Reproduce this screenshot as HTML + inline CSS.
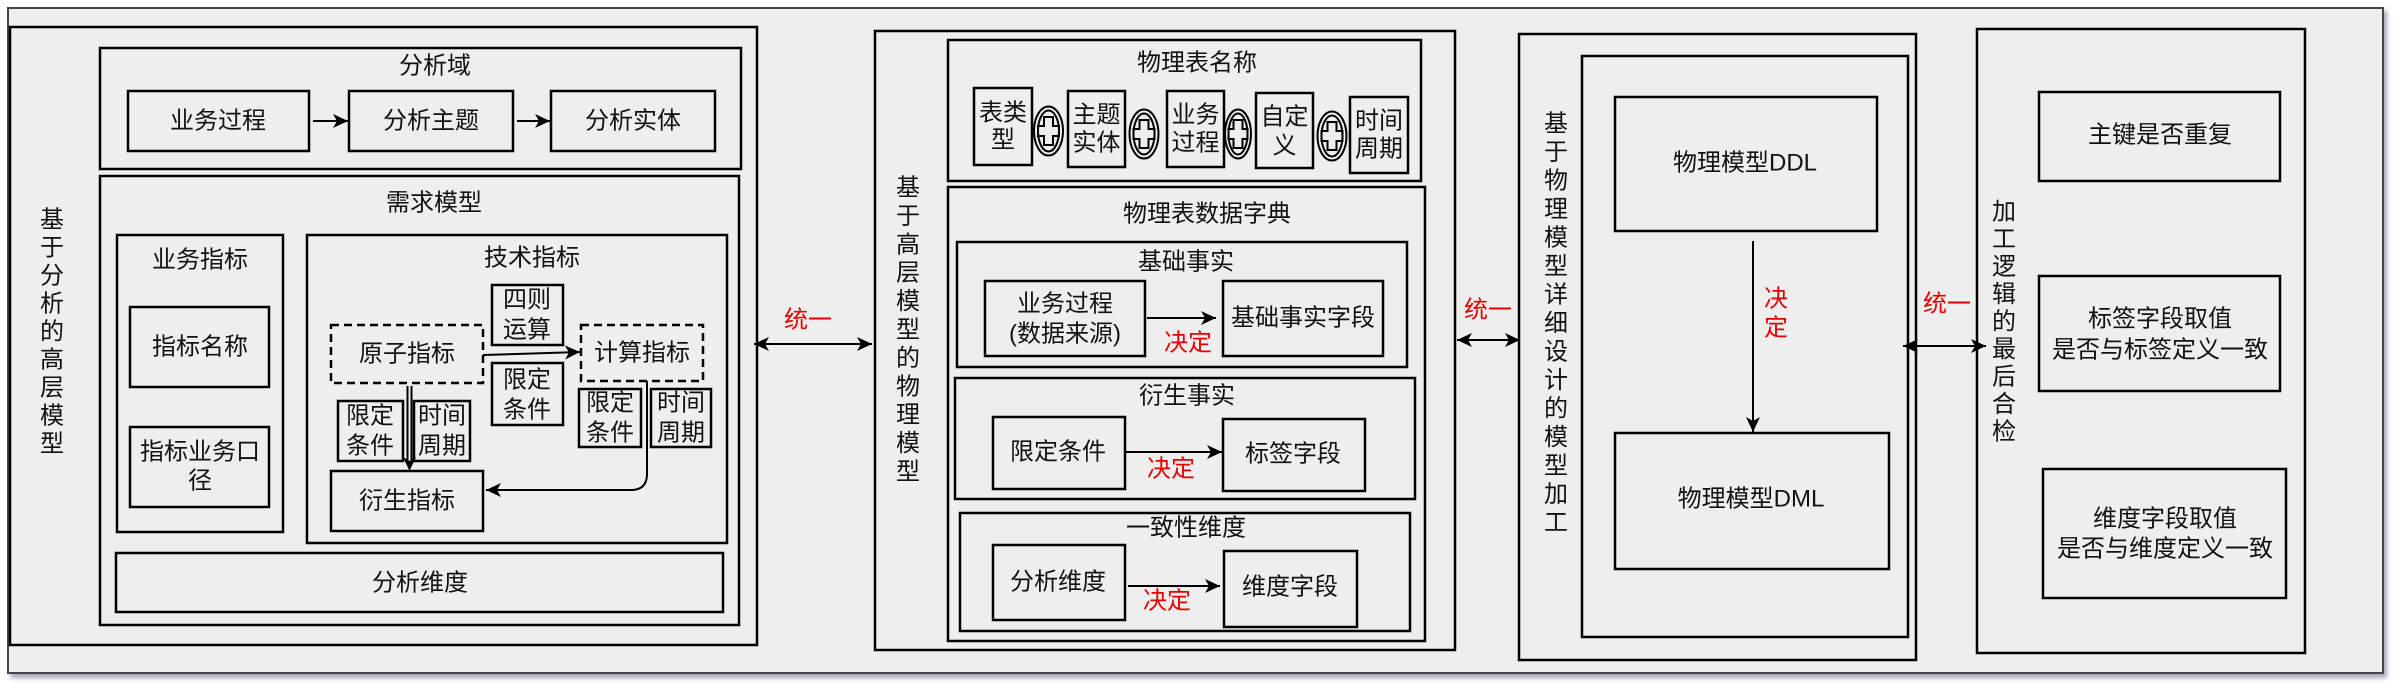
<!DOCTYPE html>
<html><head><meta charset="utf-8">
<style>
html,body{margin:0;padding:0;background:#fff;}
svg{display:block;}
text{font-family:"Liberation Sans","Noto Sans CJK SC",sans-serif;font-size:24px;fill:#111;text-anchor:middle;dominant-baseline:central;}
.r{fill:#e60000;}
.b{fill:none;stroke:#000;stroke-width:2.5;}
.d{fill:none;stroke:#000;stroke-width:2.5;stroke-dasharray:8 5;}
.l{fill:none;stroke:#000;stroke-width:2;}
</style></head>
<body>
<svg width="2400" height="690" viewBox="0 0 2400 690" xmlns="http://www.w3.org/2000/svg">
<defs>
<filter id="sh" x="-5%" y="-5%" width="110%" height="115%">
<feDropShadow dx="3" dy="4" stdDeviation="2.5" flood-color="#5a6080" flood-opacity="0.55"/>
</filter>
<marker id="a" markerWidth="16" markerHeight="16" refX="15" refY="8" orient="auto-start-reverse" markerUnits="userSpaceOnUse">
<path d="M15,8 L0,1 L4,8 L0,15 Z" fill="#000"/>
</marker>
</defs>

<!-- outer frame -->
<rect x="8" y="8" width="2375" height="665" fill="#eeeeee" stroke="#444" stroke-width="2" filter="url(#sh)"/>

<!-- ============ LEFT BOX ============ -->
<rect class="b" x="10" y="27" width="747" height="618"/>
<text x="52" y="220">基</text><text x="52" y="248">于</text><text x="52" y="276">分</text>
<text x="52" y="304">析</text><text x="52" y="332">的</text><text x="52" y="360">高</text>
<text x="52" y="388">层</text><text x="52" y="416">模</text><text x="52" y="444">型</text>

<!-- 分析域 -->
<rect class="b" x="100" y="48" width="641" height="121"/>
<text x="435" y="66">分析域</text>
<rect class="b" x="128" y="91" width="181" height="60"/>
<text x="218" y="121">业务过程</text>
<rect class="b" x="349" y="91" width="164" height="60"/>
<text x="431" y="121">分析主题</text>
<rect class="b" x="551" y="91" width="164" height="60"/>
<text x="633" y="121">分析实体</text>
<line class="l" x1="313" y1="121" x2="348" y2="121" marker-end="url(#a)"/>
<line class="l" x1="517" y1="121" x2="550" y2="121" marker-end="url(#a)"/>

<!-- 需求模型 -->
<rect class="b" x="100" y="176" width="639" height="449"/>
<text x="434" y="203">需求模型</text>

<rect class="b" x="117" y="235" width="166" height="297"/>
<text x="200" y="260">业务指标</text>
<rect class="b" x="130" y="307" width="139" height="80"/>
<text x="200" y="347">指标名称</text>
<rect class="b" x="130" y="427" width="139" height="80"/>
<text x="200" y="452">指标业务口</text>
<text x="200" y="481">径</text>

<rect class="b" x="307" y="235" width="420" height="308"/>
<text x="532" y="258">技术指标</text>
<rect class="d" x="331" y="325" width="152" height="58"/>
<text x="407" y="354">原子指标</text>
<rect class="b" x="492" y="285" width="71" height="60"/>
<text x="527" y="300">四则</text><text x="527" y="330">运算</text>
<rect class="b" x="492" y="363" width="71" height="62"/>
<text x="527" y="380">限定</text><text x="527" y="410">条件</text>
<rect class="d" x="581" y="325" width="122" height="56"/>
<text x="642" y="353">计算指标</text>
<rect class="b" x="579" y="389" width="62" height="58"/>
<text x="610" y="403">限定</text><text x="610" y="433">条件</text>
<rect class="b" x="651" y="389" width="60" height="58"/>
<text x="681" y="403">时间</text><text x="681" y="433">周期</text>
<rect class="b" x="338" y="401" width="65" height="60"/>
<text x="370" y="416">限定</text><text x="370" y="446">条件</text>
<rect class="b" x="414" y="401" width="56" height="60"/>
<text x="442" y="416">时间</text><text x="442" y="446">周期</text>
<rect class="b" x="331" y="471" width="152" height="60"/>
<text x="407" y="501">衍生指标</text>

<line class="l" x1="483" y1="355" x2="580" y2="352" marker-end="url(#a)"/>
<line x1="407.5" y1="386" x2="407.5" y2="464" stroke="#000" stroke-width="2"/>
<line x1="411.5" y1="386" x2="411.5" y2="464" stroke="#000" stroke-width="2"/>
<polygon points="409.5,471 403,457 409.5,461 416,457" fill="#000"/>
<path class="l" d="M647,381 L647,474 Q647,490 631,490 L486,490" marker-end="url(#a)"/>

<rect class="b" x="116" y="553" width="607" height="59"/>
<text x="420" y="583">分析维度</text>

<!-- arrow 1 -->
<line class="l" x1="754" y1="344" x2="872" y2="344" marker-start="url(#a)" marker-end="url(#a)"/>
<text class="r" x="808" y="320">统一</text>

<!-- ============ MIDDLE BOX ============ -->
<rect class="b" x="875" y="31" width="580" height="619"/>
<text x="908" y="188">基</text><text x="908" y="216.4">于</text><text x="908" y="244.8">高</text>
<text x="908" y="273.2">层</text><text x="908" y="301.6">模</text><text x="908" y="330">型</text>
<text x="908" y="358.4">的</text><text x="908" y="386.8">物</text><text x="908" y="415.2">理</text>
<text x="908" y="443.6">模</text><text x="908" y="472">型</text>

<rect class="b" x="948" y="40" width="473" height="141"/>
<text x="1197" y="63">物理表名称</text>
<rect class="b" x="974" y="88" width="58" height="77"/>
<text x="1003" y="113">表类</text><text x="1003" y="140">型</text>
<rect class="b" x="1068" y="91" width="57" height="76"/>
<text x="1096.5" y="115">主题</text><text x="1096.5" y="143">实体</text>
<rect class="b" x="1167" y="91" width="57" height="76"/>
<text x="1195.5" y="115">业务</text><text x="1195.5" y="143">过程</text>
<rect class="b" x="1256" y="93" width="57" height="75"/>
<text x="1284.5" y="117">自定</text><text x="1284.5" y="146">义</text>
<rect class="b" x="1350" y="97" width="58" height="76"/>
<text x="1379" y="121">时间</text><text x="1379" y="149">周期</text>

<g fill="none" stroke="#000" stroke-width="2">
<g transform="translate(1048.5,131)">
<ellipse rx="14.5" ry="24.5"/><ellipse rx="10.5" ry="20.5"/>
<path d="M-4.5,-14 H4.5 V-5 H10.5 V5 H4.5 V14 H-4.5 V5 H-10.5 V-5 H-4.5 Z"/>
</g>
<g transform="translate(1144,134)">
<ellipse rx="14.5" ry="24.5"/><ellipse rx="10.5" ry="20.5"/>
<path d="M-4.5,-14 H4.5 V-5 H10.5 V5 H4.5 V14 H-4.5 V5 H-10.5 V-5 H-4.5 Z"/>
</g>
<g transform="translate(1238,134)">
<ellipse rx="13" ry="24.5"/><ellipse rx="9.5" ry="20.5"/>
<path d="M-4.5,-14 H4.5 V-5 H9.5 V5 H4.5 V14 H-4.5 V5 H-9.5 V-5 H-4.5 Z"/>
</g>
<g transform="translate(1332,136)">
<ellipse rx="14.5" ry="24.5"/><ellipse rx="10.5" ry="20.5"/>
<path d="M-4.5,-14 H4.5 V-5 H10.5 V5 H4.5 V14 H-4.5 V5 H-10.5 V-5 H-4.5 Z"/>
</g>
</g>

<rect class="b" x="948" y="187" width="477" height="454"/>
<text x="1207" y="214">物理表数据字典</text>

<rect class="b" x="957" y="242" width="450" height="125"/>
<text x="1186" y="262">基础事实</text>
<rect class="b" x="985" y="281" width="160" height="75"/>
<text x="1065" y="304">业务过程</text>
<text x="1065" y="334">(数据来源)</text>
<rect class="b" x="1223" y="281" width="160" height="75"/>
<text x="1303" y="318">基础事实字段</text>
<line class="l" x1="1147" y1="318" x2="1216" y2="318" marker-end="url(#a)"/>
<text class="r" x="1188" y="343">决定</text>

<rect class="b" x="955" y="378" width="460" height="121"/>
<text x="1187" y="396">衍生事实</text>
<rect class="b" x="993" y="417" width="132" height="72"/>
<text x="1058" y="452">限定条件</text>
<rect class="b" x="1223" y="419" width="142" height="72"/>
<text x="1293" y="454">标签字段</text>
<line class="l" x1="1125" y1="452" x2="1222" y2="452" marker-end="url(#a)"/>
<text class="r" x="1171" y="469">决定</text>

<rect class="b" x="960" y="513" width="450" height="118"/>
<text x="1186" y="528">一致性维度</text>
<rect class="b" x="993" y="545" width="132" height="75"/>
<text x="1058" y="582">分析维度</text>
<rect class="b" x="1224" y="551" width="133" height="76"/>
<text x="1290" y="587">维度字段</text>
<line class="l" x1="1128" y1="586" x2="1220" y2="586" marker-end="url(#a)"/>
<text class="r" x="1167" y="601">决定</text>

<!-- arrow 2 -->
<line class="l" x1="1457" y1="340" x2="1520" y2="340" marker-start="url(#a)" marker-end="url(#a)"/>
<text class="r" x="1488" y="310">统一</text>

<!-- ============ BOX 3 ============ -->
<rect class="b" x="1519" y="34" width="397" height="626"/>
<text x="1556" y="124">基</text><text x="1556" y="152.5">于</text><text x="1556" y="181">物</text>
<text x="1556" y="209.5">理</text><text x="1556" y="238">模</text><text x="1556" y="266.5">型</text>
<text x="1556" y="295">详</text><text x="1556" y="323.5">细</text><text x="1556" y="352">设</text>
<text x="1556" y="380.5">计</text><text x="1556" y="409">的</text><text x="1556" y="437.5">模</text>
<text x="1556" y="466">型</text><text x="1556" y="494.5">加</text><text x="1556" y="523">工</text>

<rect class="b" x="1582" y="56" width="326" height="581"/>
<rect class="b" x="1615" y="97" width="262" height="134"/>
<text x="1745" y="163">物理模型DDL</text>
<line class="l" x1="1753" y1="241" x2="1753" y2="432" marker-end="url(#a)"/>
<text class="r" x="1776" y="299">决</text>
<text class="r" x="1776" y="328">定</text>
<rect class="b" x="1615" y="433" width="274" height="136"/>
<text x="1751" y="499">物理模型DML</text>

<!-- arrow 3 -->
<line class="l" x1="1903" y1="346" x2="1986" y2="346" marker-start="url(#a)" marker-end="url(#a)"/>
<text class="r" x="1947" y="304">统一</text>

<!-- ============ BOX 4 ============ -->
<rect class="b" x="1977" y="29" width="328" height="624"/>
<text x="2004" y="212">加</text><text x="2004" y="239.5">工</text><text x="2004" y="267">逻</text>
<text x="2004" y="294.5">辑</text><text x="2004" y="322">的</text><text x="2004" y="349.5">最</text>
<text x="2004" y="377">后</text><text x="2004" y="404.5">合</text><text x="2004" y="432">检</text>

<rect class="b" x="2039" y="92" width="241" height="89"/>
<text x="2160" y="135">主键是否重复</text>
<rect class="b" x="2039" y="276" width="241" height="115"/>
<text x="2160" y="319">标签字段取值</text>
<text x="2160" y="350">是否与标签定义一致</text>
<rect class="b" x="2043" y="469" width="243" height="129"/>
<text x="2165" y="519">维度字段取值</text>
<text x="2165" y="549">是否与维度定义一致</text>
</svg>
</body></html>
